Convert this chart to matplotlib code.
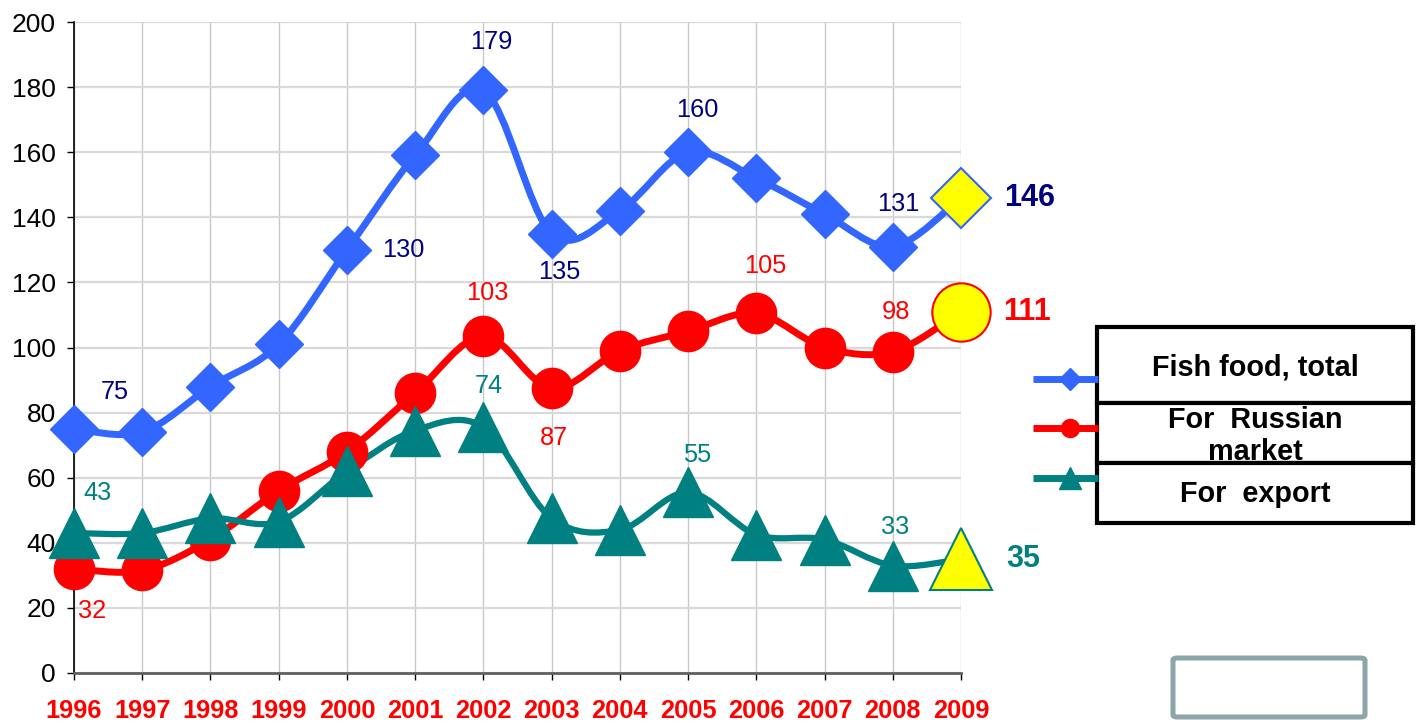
import matplotlib
matplotlib.use("Agg")
import matplotlib.pyplot as plt
from matplotlib.path import Path
from matplotlib.patches import PathPatch, Rectangle, FancyBboxPatch
from matplotlib.lines import Line2D

plt.rcParams['font.family'] = ['Liberation Sans', 'DejaVu Sans']

years = list(range(1996, 2010))
fish_total = [75, 74, 88, 101, 130, 159, 179, 135, 142, 160, 152, 141, 131, 146]
russian_market = [32, 31.5, 41, 56, 68, 86, 103.5, 87.5, 99, 105, 110.5, 100, 98.7, 111]
export = [43, 43, 47.5, 46.5, 62, 74.5, 75.5, 47.5, 44, 55.5, 42.5, 41, 33, 35]

series_names = ["Fish food, total", "For  Russian\nmarket", "For  export"]
y_ticks = list(range(0, 201, 20))

# data labels: (year, text, dx px, dy px)
total_labels = [(1996, "75", 41, 37), (2000, "130", 56, 0), (2002, "179", 8, 48),
                (2003, "135", 8, -38), (2005, "160", 9, 42), (2008, "131", 6, 43)]
russian_labels = [(1996, "32", 18, -42), (2002, "103", 4, 43), (2003, "87", 2, -50),
                  (2006, "105", 9, 47), (2008, "98", 3, 40)]
export_labels = [(1996, "43", 24, 40), (2002, "74", 5, 41), (2005, "55", 9, 37),
                 (2008, "33", 2, 39)]
last_labels = ["146", "111", "35"]

W, H = 1422, 728
fig = plt.figure(figsize=(W / 100, H / 100), dpi=100)
ax = fig.add_axes([74 / W, 55 / H, (961 - 74) / W, (673 - 22) / H])
ax.set_xlim(1996, 2009)
ax.set_ylim(0, 200)

PX = 0.72  # points per pixel


def smooth_path(xs, ys):
    pts = list(zip(xs, ys))
    n = len(pts)
    verts = [pts[0]]
    codes = [Path.MOVETO]
    for i in range(n - 1):
        p0 = pts[i - 1] if i > 0 else pts[i]
        p1 = pts[i]
        p2 = pts[i + 1]
        p3 = pts[i + 2] if i + 2 < n else pts[i + 1]
        c1 = (p1[0] + (p2[0] - p0[0]) / 6, p1[1] + (p2[1] - p0[1]) / 6)
        c2 = (p2[0] - (p3[0] - p1[0]) / 6, p2[1] - (p3[1] - p1[1]) / 6)
        verts += [c1, c2, p2]
        codes += [Path.CURVE4] * 3
    return Path(verts, codes)


blue = "#3366FF"
red = "#FF0000"
teal = "#008080"
navy = "#000080"

specs = [
    (fish_total, blue, 'D', 24, 30.5, blue, navy, total_labels, 5.0),
    (russian_market, red, 'o', 29, 42, red, red, russian_labels, 5.0),
    (export, teal, '^', 36, 45, teal, teal, export_labels, 4.5),
]

for vals, col, mk, ms, ms_last, edge_last, lab_col, labels, lw in specs:
    ax.add_patch(PathPatch(smooth_path(years, vals), facecolor='none', edgecolor=col,
                           lw=lw, zorder=3, clip_on=False, capstyle='round', joinstyle='round'))
    ax.plot(years[:-1], vals[:-1], linestyle='none', marker=mk, ms=ms, color=col,
            mec=col, zorder=4, clip_on=False)
    ax.plot(years[-1:], vals[-1:], linestyle='none', marker=mk, ms=ms_last, color='#FFFF00',
            mec=edge_last, mew=1.5, zorder=4, clip_on=False)
    for yr, txt, dx, dy in labels:
        ax.annotate(txt, (yr, vals[years.index(yr)]), xytext=(dx * PX, dy * PX),
                    textcoords='offset points', ha='center', va='center',
                    fontsize=18.3, color=lab_col, zorder=5, annotation_clip=False)

last_offsets = [69, 66, 62]
for (vals, col, mk, ms, ms_last, edge_last, lab_col, labels, lw), txt, dx in zip(specs, last_labels, last_offsets):
    ax.annotate(txt, (years[-1], vals[-1]), xytext=(dx * PX, 0), textcoords='offset points',
                ha='center', va='center', fontsize=22, fontweight='bold', color=lab_col,
                annotation_clip=False)

ax.set_xticks(years)
ax.set_xticklabels([str(y) for y in years], color=red, fontweight='bold', fontsize=18.3)
ax.set_yticks(y_ticks)
ax.set_yticklabels([str(v) for v in y_ticks], fontsize=19, color='black')
ax.tick_params(axis='y', length=5, width=1, pad=8)
ax.tick_params(axis='x', length=5, width=1, pad=14)
ax.grid(True, axis='x', color='#C8C8C8', lw=1.0, zorder=0)
ax.grid(True, axis='y', color='#D9D9D9', lw=1.6, zorder=0)
ax.set_axisbelow(True)
for s in ['top', 'right']:
    ax.spines[s].set_visible(False)
ax.spines['left'].set_color('black')
ax.spines['left'].set_linewidth(1.2)
ax.spines['bottom'].set_color('#606060')
ax.spines['bottom'].set_linewidth(2)


def fx(x):
    return x / W


def fy(y):
    return 1 - y / H


# legend samples
leg_y = [379, 428, 478]
leg_ms = [11, 13, 16]
for (vals, col, mk, *_), y, lms in zip(specs, leg_y, leg_ms):
    fig.add_artist(Line2D([fx(1033), fx(1098)], [fy(y), fy(y)], color=col, lw=5,
                          transform=fig.transFigure, solid_capstyle='butt'))
    fig.add_artist(Line2D([fx(1070)], [fy(y)], marker=mk, ms=lms, color=col,
                          transform=fig.transFigure))

# legend boxes (each drawn over the previous one's text overflow)
boxes = [(327, 403), (403, 463), (463, 523)]
text_centers = [367, 436, 494]
for (top, bot), name, tc in zip(boxes, series_names, text_centers):
    fig.add_artist(Rectangle((fx(1097), fy(bot)), fx(1413) - fx(1097), fy(top) - fy(bot),
                             transform=fig.transFigure, facecolor='white', edgecolor='black',
                             lw=3))
    fig.text(fx(1255), fy(tc), name, ha='center', va='center', fontsize=20.8,
             fontweight='bold', linespacing=1.2)

# empty grey box
fig.add_artist(FancyBboxPatch((fx(1173), fy(717)), fx(1365) - fx(1173), fy(658) - fy(717),
                              boxstyle="round,pad=0,rounding_size=0.003",
                              transform=fig.transFigure, facecolor='white',
                              edgecolor='#8BA5A8', lw=3.6))

fig.savefig("out.png", dpi=100)
